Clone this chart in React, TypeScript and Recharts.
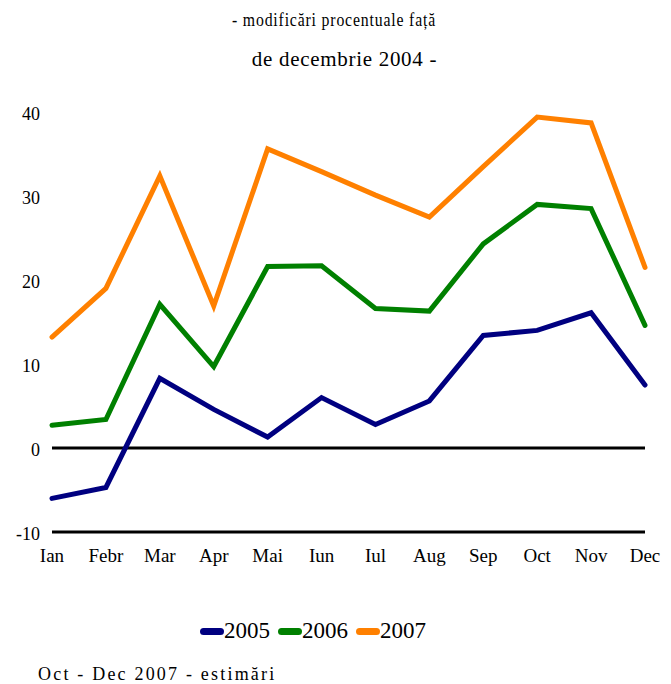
import React from 'react';
import { LineChart, Line, XAxis, YAxis, ReferenceLine } from 'recharts';

const months = ['Ian', 'Febr', 'Mar', 'Apr', 'Mai', 'Iun', 'Iul', 'Aug', 'Sep', 'Oct', 'Nov', 'Dec'];
const y2005 = [-6.0, -4.7, 8.3, 4.6, 1.3, 6.0, 2.8, 5.6, 13.4, 14.0, 16.1, 7.5];
const y2006 = [2.7, 3.4, 17.1, 9.7, 21.6, 21.7, 16.6, 16.3, 24.3, 29.0, 28.5, 14.6];
const y2007 = [13.2, 19.0, 32.4, 16.9, 35.6, 32.9, 30.1, 27.5, 33.5, 39.4, 38.7, 21.5];
const yTicks = [-10, 0, 10, 20, 30, 40];

const series = [
  { key: 'y2005', name: '2005', color: '#000080' },
  { key: 'y2006', name: '2006', color: '#008000' },
  { key: 'y2007', name: '2007', color: '#FF8000' },
];

const data = months.map((m, i) => ({ month: m, y2005: y2005[i], y2006: y2006[i], y2007: y2007[i] }));

const serif = '"Liberation Serif", "Times New Roman", serif';

export default function App() {
  return (
    <div style={{ position: 'relative', width: 671, height: 684, fontFamily: serif, color: '#000', overflow: 'hidden' }}>
      <style>{`html, body { margin: 0; padding: 0; overflow: hidden; }`}</style>
      {/* the title text in the source is narrow and tall, hence the scaleX */}
      <div style={{ position: 'absolute', top: 9, left: 334, whiteSpace: 'nowrap', fontSize: 19, letterSpacing: 1, transform: 'translateX(-50%) scaleX(0.83)' }}>
        - modificări procentuale față
      </div>
      <div style={{ position: 'absolute', top: 47, left: 0, width: 653, textAlign: 'center', fontSize: 21, letterSpacing: 0.7, paddingLeft: 18 }}>
        de decembrie 2004 -
      </div>
      <LineChart width={671} height={684} data={data} margin={{ top: 112, right: 26, bottom: 122, left: 0 }}>
        <XAxis
          dataKey="month"
          axisLine={false}
          tickLine={false}
          tickSize={0}
          tickMargin={17}
          height={30}
          interval={0}
          tick={{ fill: '#000', fontSize: 19, fontFamily: serif }}
        />
        <YAxis
          domain={[-10, 40]}
          ticks={yTicks}
          axisLine={false}
          tickLine={false}
          tickSize={0}
          tickMargin={12}
          width={52}
          tick={{ fill: '#000', fontSize: 18, fontFamily: serif, dy: 2 }}
        />
        <ReferenceLine y={0} stroke="#000" strokeWidth={3} />
        <ReferenceLine y={-10} stroke="#000" strokeWidth={3} />
        {series.map((s) => (
          <Line
            key={s.key}
            dataKey={s.key}
            name={s.name}
            stroke={s.color}
            strokeWidth={5}
            strokeLinecap="round"
            dot={false}
            activeDot={false}
            isAnimationActive={false}
          />
        ))}
      </LineChart>
      <div style={{ position: 'absolute', top: 617, left: 200, display: 'flex', alignItems: 'center', fontSize: 23, lineHeight: '28px' }}>
        {series.map((s) => (
          <div key={s.key} style={{ display: 'flex', alignItems: 'center', marginRight: 8 }}>
            <span style={{ display: 'inline-block', width: 24, height: 7, borderRadius: 3.5, background: s.color }} />
            <span>{s.name}</span>
          </div>
        ))}
      </div>
      <div style={{ position: 'absolute', top: 664, left: 38, fontSize: 18, letterSpacing: 2.2, whiteSpace: 'nowrap' }}>
        Oct - Dec 2007 - estimări
      </div>
    </div>
  );
}
